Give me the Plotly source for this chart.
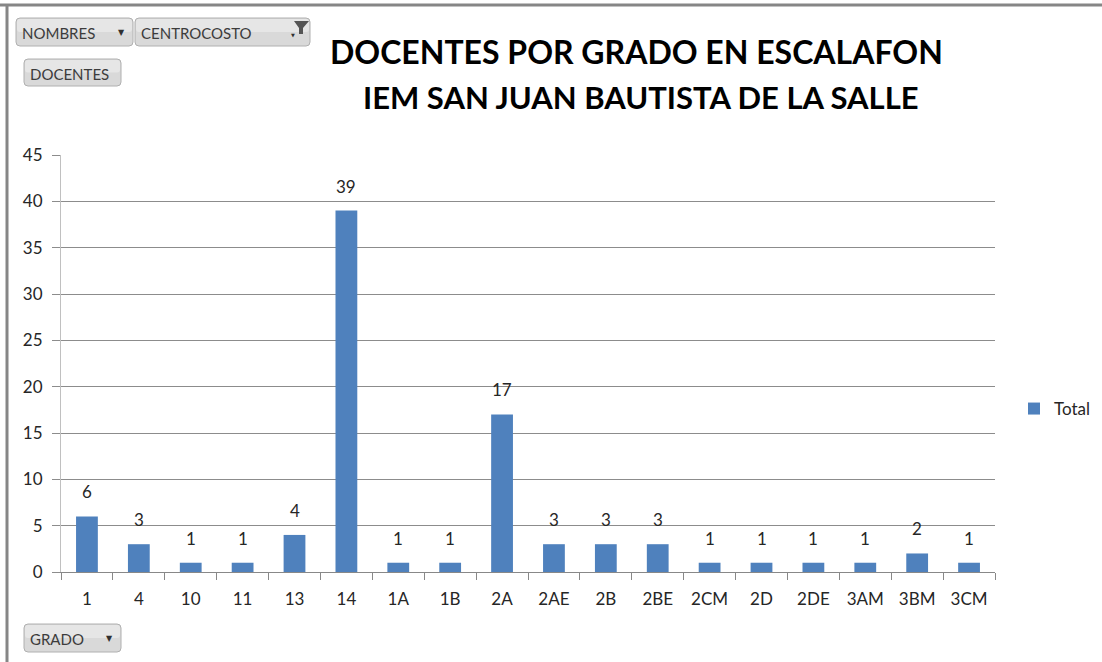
import plotly.graph_objects as go

categories = ["1", "4", "10", "11", "13", "14", "1A", "1B", "2A", "2AE", "2B", "2BE",
              "2CM", "2D", "2DE", "3AM", "3BM", "3CM"]
totals = [6, 3, 1, 1, 4, 39, 1, 1, 17, 3, 3, 3, 1, 1, 1, 1, 2, 1]
y_ticks = [0, 5, 10, 15, 20, 25, 30, 35, 40, 45]
title_lines = ["DOCENTES POR GRADO EN ESCALAFON", "IEM SAN JUAN BAUTISTA DE LA SALLE"]
series_name = "Total"

W, H = 1102, 662
ML, MR, MT, MB = 61, 107, 155, 90
PW, PH = W - ML - MR, H - MT - MB


def px(x):
    return (x - ML) / PW


def py(y):
    return (H - MB - y) / PH


FONT = "Lato"
TXT = "#262626"

fig = go.Figure()
fig.add_trace(go.Bar(
    x=categories, y=totals, name=series_name,
    marker=dict(color="#4F81BD", line=dict(width=0)),
    width=0.42, showlegend=True,
))

# data labels above bars, positioned through the axes (category index on x)
for i, v in enumerate(totals):
    fig.add_annotation(x=i, y=v, xref="x", yref="y", text=str(v), showarrow=False,
                       xanchor="center", yanchor="bottom", yshift=12,
                       font=dict(family=FONT, size=17, color=TXT))

fig.update_layout(
    width=W, height=H,
    margin=dict(l=ML, r=MR, t=MT, b=MB, autoexpand=False),
    paper_bgcolor="white", plot_bgcolor="white",
    font=dict(family=FONT, size=17, color=TXT),
    showlegend=True,
    legend=dict(xref="container", yref="container", x=1014 / W, y=(H - 409) / H,
                xanchor="left", yanchor="middle",
                font=dict(family=FONT, size=17, color=TXT),
                itemwidth=30, bgcolor="rgba(0,0,0,0)"),
    xaxis=dict(
        type="category", showgrid=False, showline=True, linecolor="#888888", linewidth=1,
        ticks="outside", tickson="boundaries", ticklen=7, tickcolor="#888888",
        tickfont=dict(family=FONT, size=17, color=TXT),
        ticklabelstandoff=12, fixedrange=True, automargin=False,
    ),
    yaxis=dict(
        range=[0, 45], tickvals=y_ticks, showgrid=True, gridcolor="#8c8c8c", gridwidth=1,
        showline=True, linecolor="#c0c0c0", linewidth=1, zeroline=False,
        ticks="outside", ticklen=8, tickcolor="#8c8c8c",
        tickfont=dict(family=FONT, size=17, color=TXT),
        ticklabelstandoff=6, fixedrange=True, automargin=False,
    ),
    bargap=0.58,
)

# title
fig.add_annotation(x=px(636), y=py(52), xref="paper", yref="paper",
                   text="<b>" + title_lines[0] + "</b>", showarrow=False,
                   font=dict(family=FONT, size=32, color="#000000"),
                   xanchor="center", yanchor="middle")
fig.add_annotation(x=px(641), y=py(97), xref="paper", yref="paper",
                   text="<b>" + title_lines[1] + "</b>", showarrow=False,
                   font=dict(family=FONT, size=31, color="#000000"),
                   xanchor="center", yanchor="middle")

# frame borders (top and left)
fig.add_shape(type="line", xref="paper", yref="paper", x0=px(0), x1=px(W), y0=py(5), y1=py(5),
              line=dict(color="#868686", width=3))
fig.add_shape(type="line", xref="paper", yref="paper", x0=px(7), x1=px(7), y0=py(5), y1=py(H),
              line=dict(color="#868686", width=3))


def rounded_rect(x0, x1, y0, y1, r=4):
    X0, X1 = px(x0), px(x1)
    Y0, Y1 = py(y0), py(y1)
    rx, ry = r / PW, r / PH
    return ("M {a} {t} L {b} {t} Q {x1} {t} {x1} {t2} L {x1} {b2} Q {x1} {bo} {b} {bo} "
            "L {a} {bo} Q {x0} {bo} {x0} {b2} L {x0} {t2} Q {x0} {t} {a} {t} Z").format(
        a=X0 + rx, b=X1 - rx, t=Y0, t2=Y0 - ry, b2=Y1 + ry, bo=Y1, x0=X0, x1=X1)


# pivot field buttons
buttons = [
    ("NOMBRES", 16, 133, 18, 46, "▼"),
    ("CENTROCOSTO", 135, 310, 18, 46, "filter"),
    ("DOCENTES", 24, 121, 59, 86, None),
    ("GRADO", 24, 121, 624, 652, "▼"),
]
for label, x0, x1, y0, y1, icon in buttons:
    fig.add_shape(type="path", xref="paper", yref="paper", path=rounded_rect(x0, x1, y0, y1),
                  fillcolor="#d9d9d9", line=dict(color="#b0b0b0", width=1))
    fig.add_shape(type="path", xref="paper", yref="paper",
                  path=rounded_rect(x0 + 1, x1 - 1, y0 + 1, (y0 + y1) / 2, r=3),
                  fillcolor="#e6e6e6", line=dict(width=0))
    fig.add_annotation(x=px(x0 + 4), y=py((y0 + y1) / 2 + 1), xref="paper", yref="paper",
                       text=label, showarrow=False, xanchor="left", yanchor="middle",
                       font=dict(family=FONT, size=15, color="#3c3c3c"))
    if icon == "▼":
        fig.add_annotation(x=px(x1 - 12), y=py((y0 + y1) / 2), xref="paper", yref="paper",
                           text="▼", showarrow=False, xanchor="center", yanchor="middle",
                           font=dict(family="DejaVu Sans", size=8, color="#303030"))
    elif icon == "filter":
        fig.add_shape(type="path", xref="paper", yref="paper",
                      path="M {} {} L {} {} L {} {} L {} {} L {} {} L {} {} Z".format(
                          px(294), py(21), px(309), py(21), px(303), py(28),
                          px(303), py(34), px(299), py(34), px(299), py(28)),
                      fillcolor="#555555", line=dict(width=0))
        fig.add_annotation(x=px(293), y=py(35), xref="paper", yref="paper",
                           text="▼", showarrow=False, xanchor="center", yanchor="middle",
                           font=dict(family="DejaVu Sans", size=5, color="#303030"))

fig.write_html("out.html", config={"displayModeBar": False},
               post_script="document.body.style.margin='0';")
